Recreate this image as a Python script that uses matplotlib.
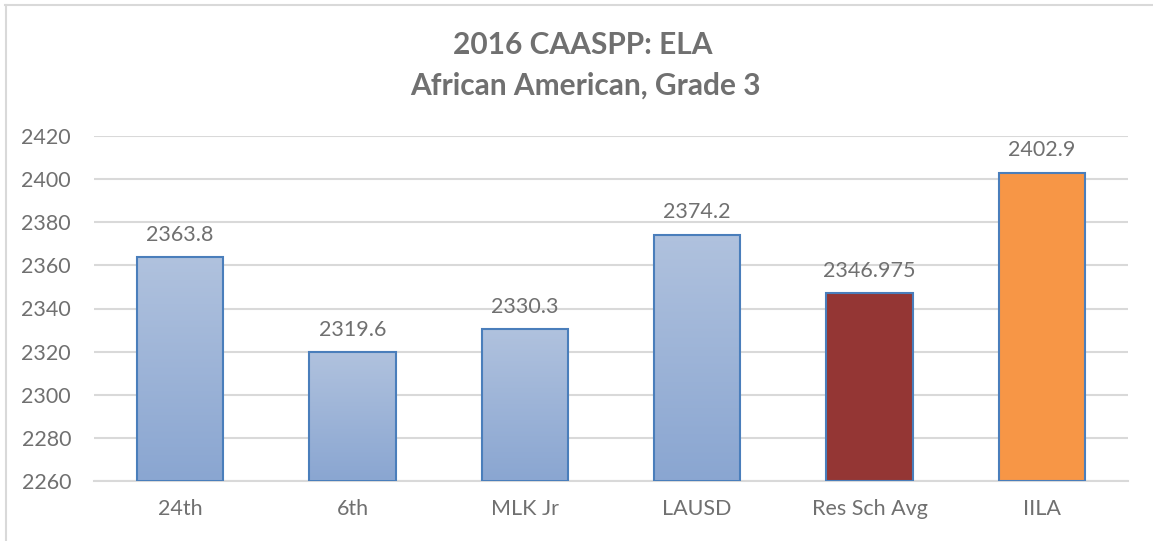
import matplotlib.pyplot as plt
import numpy as np
from matplotlib.lines import Line2D

categories = ["24th", "6th", "MLK Jr", "LAUSD", "Res Sch Avg", "IILA"]
scores = [2363.8, 2319.6, 2330.3, 2374.2, 2346.975, 2402.9]
labels = ["2363.8", "2319.6", "2330.3", "2374.2", "2346.975", "2402.9"]
# None means the blue gradient fill
fills = [None, None, None, None, "#943634", "#f79646"]
yticks = list(range(2260, 2421, 20))

plt.rcParams['font.family'] = ['Lato', 'DejaVu Sans']
text_gray = "#707070"

fig = plt.figure(figsize=(11.53, 5.41), dpi=100)
ax = fig.add_axes((94 / 1153, 60 / 541, (1128 - 94) / 1153, (481 - 136) / 541))

x = np.arange(len(categories))
bars = ax.bar(x, [s - yticks[0] for s in scores], bottom=yticks[0], width=0.5,
              edgecolor="#4a7ebb", linewidth=1.5, zorder=3)

# vertical gradient, light on top
grad = np.linspace(1, 0, 256).reshape(-1, 1)
top_c = np.array([0.69, 0.76, 0.87])
bot_c = np.array([0.54, 0.65, 0.82])
grad_img = bot_c + (top_c - bot_c) * grad[..., None]

for bar, fill in zip(bars, fills):
    if fill is None:
        bar.set_facecolor("none")
        x0, y0 = bar.get_x(), bar.get_y()
        w, h = bar.get_width(), bar.get_height()
        im = ax.imshow(grad_img, extent=(x0, x0 + w, y0, y0 + h),
                       aspect="auto", zorder=2.5, interpolation="bilinear")
        im.set_clip_path(bar)
    else:
        bar.set_facecolor(fill)

for xi, s, lab in zip(x, scores, labels):
    ax.annotate(lab, (xi, s), xytext=(0, 9), textcoords="offset points",
                ha="center", va="bottom", fontsize=15.5, color=text_gray)

ax.set_xlim(-0.5, len(categories) - 0.5)
ax.set_ylim(yticks[0], yticks[-1])
ax.set_yticks(yticks)
ax.set_xticks(x)
ax.set_xticklabels(categories)
ax.yaxis.grid(True, color="#d9d9d9", linewidth=1.5, zorder=0)
ax.set_axisbelow(True)
for side in ["top", "right", "left"]:
    ax.spines[side].set_visible(False)
ax.spines["bottom"].set_color("#d9d9d9")
ax.spines["bottom"].set_linewidth(1.5)
ax.tick_params(axis="both", length=0, labelsize=15.5, colors=text_gray)
ax.tick_params(axis="x", pad=13)
ax.tick_params(axis="y", pad=16.5)

fig.text(583 / 1153, 1 - 45 / 541, "2016 CAASPP: ELA", ha="center", va="center",
         fontsize=21.5, fontweight="bold", color=text_gray)
fig.text(585 / 1153, 1 - 86 / 541, "African American, Grade 3", ha="center",
         va="center", fontsize=21.5, fontweight="bold", color=text_gray)

# chart frame (only top and left edges are inside the crop)
fig.add_artist(Line2D([5 / 1153, 1], [1 - 4.5 / 541] * 2, color="#d9d9d9",
                      linewidth=1.5, transform=fig.transFigure))
fig.add_artist(Line2D([5.5 / 1153] * 2, [0, 1 - 4.5 / 541], color="#d9d9d9",
                      linewidth=1.5, transform=fig.transFigure))

fig.savefig("out.png", dpi=100)
